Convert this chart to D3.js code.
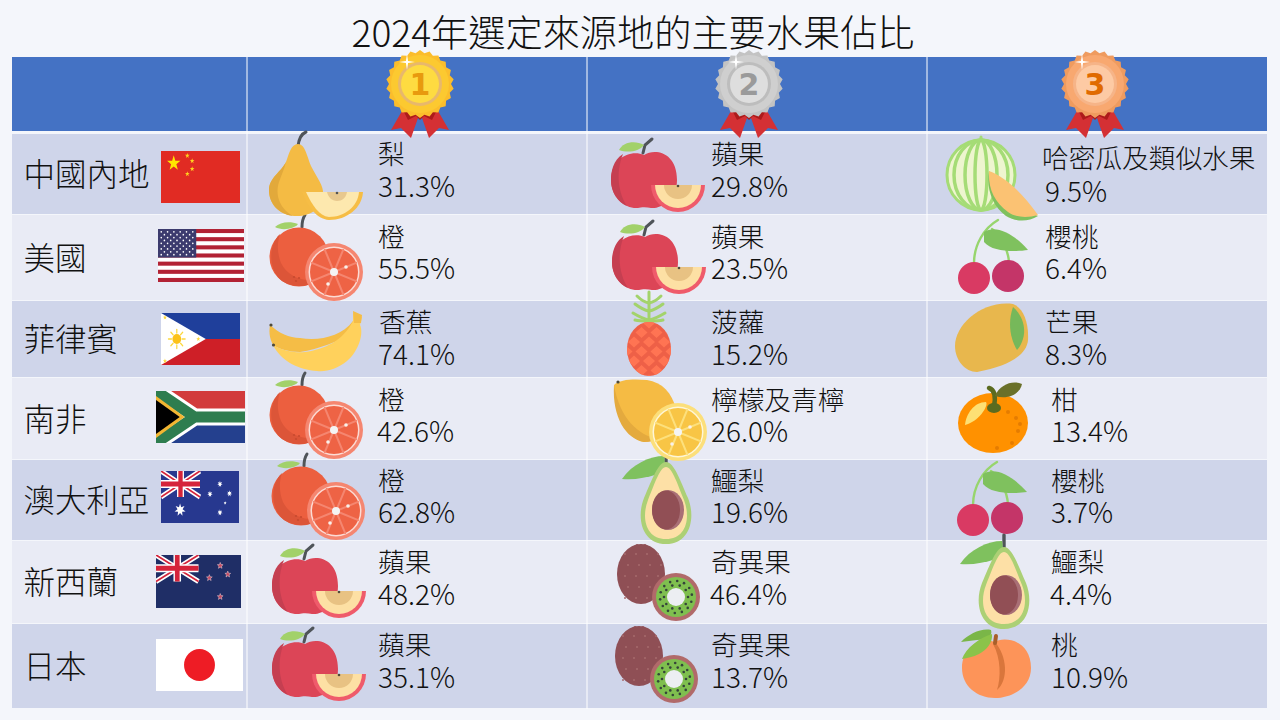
<!DOCTYPE html>
<html>
<head>
<meta charset="utf-8">
<script src="https://cdn.jsdelivr.net/npm/d3@7"></script>
<style>
  html, body { margin: 0; padding: 0; background: #f4f6fb; }
  svg { display: block; }
  text { font-family: "Noto Sans CJK TC", "Noto Sans", sans-serif; font-weight: 300; fill: #111; }
</style>
</head>
<body>
<svg id="chart" width="1280" height="720"></svg>
<script>
const title = "2024年選定來源地的主要水果佔比";

// table data, one list per column
const regions = ["中國內地", "美國", "菲律賓", "南非", "澳大利亞", "新西蘭", "日本"];
const flagKeys = ["cn", "us", "ph", "za", "au", "nz", "jp"];
const fruit1 = ["梨", "橙", "香蕉", "橙", "橙", "蘋果", "蘋果"];
const value1 = [31.3, 55.5, 74.1, 42.6, 62.8, 48.2, 35.1];
const fruit2 = ["蘋果", "蘋果", "菠蘿", "檸檬及青檸", "鱷梨", "奇異果", "奇異果"];
const value2 = [29.8, 23.5, 15.2, 26.0, 19.6, 46.4, 13.7];
const fruit3 = ["哈密瓜及類似水果", "櫻桃", "芒果", "柑", "櫻桃", "鱷梨", "桃"];
const value3 = [9.5, 6.4, 8.3, 13.4, 3.7, 4.4, 10.9];

// layout
const colEdges = [12, 247, 587, 927, 1267];
const rowEdges = [134, 215, 301, 378, 460, 541, 624, 709];
const regionY = [175, 259, 340, 420, 501, 583, 667];
const flagBoxes = [[161, 151, 79, 52], [158, 229, 86, 53], [161, 313, 79, 52], [156, 391, 89, 52],
  [161, 471, 78, 52], [156, 555, 85, 53], [156, 639, 87, 52]];
const labelX = [
  [378, 378, 379, 378, 378, 378, 378],
  [711, 711, 711, 711, 711, 711, 711],
  [1042, 1045, 1045, 1051, 1051, 1051, 1051]];
const valueX = [
  [378, 378, 378, 377, 378, 378, 378],
  [711, 711, 711, 711, 711, 710, 711],
  [1045, 1045, 1045, 1051, 1051, 1050, 1051]];
const labelY = [
  [154, 237, 322, 400, 481, 562, 645],
  [154, 237, 322, 400, 481, 562, 645],
  [158, 237, 322, 400, 481, 562, 645]];
const valueY = [
  [187, 269, 355, 432, 513, 595, 678],
  [187, 269, 355, 432, 513, 595, 678],
  [192, 269, 355, 432, 513, 595, 678]];
const iconAt = [
  [[269, 132], [270, 215], [269, 311], [270, 373], [272, 454], [272, 544], [272, 627]],
  [[611, 138], [612, 220], [627, 290], [614, 379], [622, 456], [617, 544], [615, 626]],
  [[946, 136], [958, 220], [955, 302], [958, 382], [957, 462], [960, 541], [961, 628]]];
const medalX = [420, 749, 1095];

const svg = d3.select("#chart");

function add(g, tag, attrs) {
  const el = g.append(tag);
  Object.entries(attrs).forEach(([k, v]) => el.attr(k, v));
  return el;
}
const path = (g, d, fill, extra) => add(g, "path", Object.assign({ d: d, fill: fill }, extra || {}));
const circle = (g, cx, cy, r, fill) => add(g, "circle", { cx: cx, cy: cy, r: r, fill: fill });
const ellipse = (g, cx, cy, rx, ry, fill, extra) =>
  add(g, "ellipse", Object.assign({ cx: cx, cy: cy, rx: rx, ry: ry, fill: fill }, extra || {}));
const line = (g, d, stroke, w) =>
  add(g, "path", { d: d, fill: "none", stroke: stroke, "stroke-width": w, "stroke-linecap": "round" });

function starPath(cx, cy, R, r, n) {
  n = n || 5;
  const pts = d3.range(n * 2).map(i => {
    const a = -Math.PI / 2 + i * Math.PI / n, q = i % 2 ? r : R;
    return [cx + q * Math.cos(a), cy + q * Math.sin(a)];
  });
  return "M" + pts.join("L") + "Z";
}

// ---- flags, all drawn in a 90x52 box ----
function unionJack(g, w, h, blue) {
  add(g, "rect", { width: w, height: h, fill: blue });
  const d = `M0 0L${w} ${h}M${w} 0L0 ${h}`;
  add(g, "path", { d: d, stroke: "#fff", "stroke-width": 5 });
  add(g, "path", { d: d, stroke: "#d5243a", "stroke-width": 1.8 });
  const c = `M${w / 2} 0V${h}M0 ${h / 2}H${w}`;
  add(g, "path", { d: c, stroke: "#fff", "stroke-width": 8 });
  add(g, "path", { d: c, stroke: "#d5243a", "stroke-width": 5 });
}

const flags = {
  cn(g) {
    add(g, "rect", { width: 90, height: 52, fill: "#e12b23" });
    path(g, starPath(14.5, 12.3, 8, 3.1), "#ffe600");
    [[30, 4.7], [35.5, 10], [35.5, 18], [30, 23]].forEach(p => path(g, starPath(p[0], p[1], 2.8, 1.1), "#ffd21f"));
  },
  us(g) {
    add(g, "rect", { width: 90, height: 52, fill: "#fff" });
    d3.range(0, 13, 2).forEach(i => add(g, "rect", { y: i * 4, width: 90, height: 4, fill: "#b22234" }));
    add(g, "rect", { width: 40, height: 28, fill: "#3c3b6e" });
    d3.range(9).forEach(r => d3.range(r % 2 ? 5 : 6).forEach(c =>
      circle(g, 3.4 + c * 6.6 + (r % 2 ? 3.3 : 0), 2.8 + r * 2.8, 0.85, "#fff")));
  },
  ph(g) {
    add(g, "rect", { width: 90, height: 26, fill: "#1f3f9b" });
    add(g, "rect", { y: 26, width: 90, height: 26, fill: "#ce1f27" });
    path(g, "M0 0L51 26L0 52Z", "#fff");
    d3.range(8).forEach(i => {
      const a = i * Math.PI / 4;
      line(g, `M${18 + 6 * Math.cos(a)} ${26 + 6 * Math.sin(a)}L${18 + 9.5 * Math.cos(a)} ${26 + 9.5 * Math.sin(a)}`, "#fcd83c", 1.4);
    });
    circle(g, 18, 26, 5, "#fcc21a");
    [[4.5, 4.5], [42.5, 26], [4.5, 48]].forEach(p => path(g, starPath(p[0], p[1], 2.4, 1), "#fcd83c"));
  },
  za(g) {
    add(g, "rect", { width: 90, height: 26, fill: "#d23b3c" });
    add(g, "rect", { y: 26, width: 90, height: 26, fill: "#24408e" });
    const y = "M0 0L39 26L0 52M39 26H90";
    add(g, "path", { d: y, fill: "none", stroke: "#fff", "stroke-width": 17 });
    add(g, "path", { d: y, fill: "none", stroke: "#2e7d4f", "stroke-width": 11 });
    path(g, "M0 5L29 26L0 47Z", "#f2b632");
    path(g, "M0 9L24 26L0 43Z", "#000");
  },
  au(g) {
    add(g, "rect", { width: 90, height: 52, fill: "#27388f" });
    unionJack(g, 45, 26, "#27388f");
    path(g, starPath(22, 39, 6.5, 3, 7), "#fff");
    [[68, 13], [56.5, 23], [79, 22.5], [68, 41.5]].forEach(p => path(g, starPath(p[0], p[1], 3.2, 1.4, 7), "#fff"));
    path(g, starPath(74, 32, 1.7, 0.8), "#fff");
  },
  nz(g) {
    add(g, "rect", { width: 90, height: 52, fill: "#1f2e66" });
    unionJack(g, 45, 26, "#1f2e66");
    [[68, 10.5], [56.5, 22.5], [76, 19], [68, 41]].forEach(p =>
      path(g, starPath(p[0], p[1], 3.2, 1.4), "#c8475f", { stroke: "#f3d8dd", "stroke-width": 0.5 }));
  },
  jp(g) {
    add(g, "rect", { width: 90, height: 52, fill: "#fff" });
    circle(g, 45, 26, 16, "#ee1c25");
  }
};

// ---- fruit icons, origin is the top left of the icon ----
function citrus(g, cx, cy, r, rim, inner, spoke) {
  circle(g, cx, cy, r, rim);
  circle(g, cx, cy, r - 3.5, "#fff").attr("opacity", 0.7);
  circle(g, cx, cy, r - 5, inner);
  d3.range(8).forEach(i => {
    const a = Math.PI / 8 + i * Math.PI / 4;
    line(g, `M${cx} ${cy}L${cx + (r - 5) * Math.cos(a)} ${cy + (r - 5) * Math.sin(a)}`, spoke, 2);
  });
  circle(g, cx, cy, 4, "#f4f4f4");
  circle(g, cx + 12, cy - 5, 1.8, "#f9f1ea");
  circle(g, cx - 6, cy + 12, 1.8, "#f9f1ea");
}

const icons = {
  "梨"(g) {
    line(g, "M29 14C30 6 32 2 37 0", "#4f5459", 3);
    path(g, "M29 12C36 12 38 24 42 34C48 46 55 54 54 62C54 76 42 84 28 84C12 84 0 74 0 58C0 46 12 40 17 30C20 22 22 12 29 12Z", "#f4bb44");
    path(g, "M17 30C12 40 0 46 0 58C0 72 10 82 24 84C10 76 6 62 10 50C12 44 15 38 17 30Z", "#e2a93b");
    path(g, "M33 60L94 60C93 76 78 88 60 88C47 87 39 74 33 60Z", "#f6bd45");
    path(g, "M37 60L90 60C89 74 76 85 60 85C50 84 43 73 37 60Z", "#fde8ae");
    path(g, "M58 60L78 60C77 66 73 69 68 69C63 69 59 65 58 60Z", "#e8c88e");
    circle(g, 68, 61, 1.3, "#555");
  },
  "橙"(g) {
    line(g, "M32 12C32 6 33 3 35 0", "#4f5459", 3);
    path(g, "M5 12C10 7 20 6 28 9C24 14 12 16 5 12Z", "#a2d16a");
    circle(g, 29, 42, 29.5, "#ec5f3f");
    path(g, "M10 19C-2 30 -2 55 12 66C24 74 40 72 50 64C34 68 18 62 11 48C7 38 7 28 10 19Z", "#dc5538");
    [[24, 62], [29, 63], [26, 66]].forEach(p => circle(g, p[0], p[1], 1.1, "#c84a30"));
    citrus(g, 64, 57, 29, "#f58670", "#ee6345", "#f58670");
  },
  "香蕉"(g) {
    path(g, "M1 14C10 22 20 27 31 27C50 30 72 26 84 10L84 22C70 30 50 38 31 41C20 41 10 38 4 34C0 26 0 20 1 14Z", "#f5bd46");
    path(g, "M4 34C14 40 26 42 36 41C56 38 74 30 84 10L84 2L93 6L91 14C95 22 90 40 78 50C68 58 58 61 48 60C30 59 12 50 4 34Z", "#ffd15c");
    path(g, "M84 0L93 4L92 12L85 12Z", "#f5bd46");
    circle(g, 2, 14, 1.6, "#4f4a3a");
    circle(g, 4.5, 34, 1.6, "#4f4a3a");
  },
  "菠蘿"(g) {
    const cx = 22;
    line(g, `M${cx} 32V2`, "#a3d36b", 3);
    [[6, 10], [14, 12], [23, 14]].forEach(l => {
      [-1, 1].forEach(s => line(g, `M${cx} ${l[0] + 7}Q${cx + s * 6} ${l[0] + 6} ${cx + s * (l[1] + 2)} ${l[0]}`, "#a3d36b", 3));
    });
    [-1, 1].forEach(s => line(g, `M${cx + s} 31Q${cx + s * 10} 31 ${cx + s * 14} 30`, "#a3d36b", 3));
    add(g, "clipPath", { id: "pineBody" }).call(c => ellipse(c, cx, 59, 22, 27, "#000"));
    ellipse(g, cx, 59, 22, 27, "#ee6047");
    const d = g.append("g").attr("clip-path", "url(#pineBody)");
    d3.range(7).forEach(r => d3.range(5).forEach(c => {
      const x = (c * 15) + (r % 2 ? 7.5 : 0) - 8, y = 33 + r * 9.5;
      path(d, `M${x} ${y - 5.5}L${x + 6} ${y}L${x} ${y + 5.5}L${x - 6} ${y}Z`, "#ff7453");
    }));
  },
  "蘋果"(g) {
    line(g, "M32 15L34 7L41 1", "#4f5459", 3);
    path(g, "M8 12C12 4 24 2 33 7C28 14 16 15 8 12Z", "#a2d16a");
    path(g, "M33 17C44 10 66 14 66 42C66 62 50 71 40 70C36 69 30 69 27 70C14 71 0 60 0 42C0 20 20 11 33 17Z", "#dc4557");
    path(g, "M12 16C2 22 0 34 0 42C0 54 7 64 16 68C8 56 4 36 12 16Z", "#c53f51");
    path(g, "M40 47A27 27 0 0 0 94 47Z", "#ef5b6b");
    path(g, "M44 47A23 23 0 0 0 90 47Z", "#fde0a4");
    path(g, "M53 47A14 14 0 0 0 81 47Z", "#e8c283");
    circle(g, 67, 48, 1.3, "#4f4a3a");
  },
  "哈密瓜及類似水果"(g) {
    line(g, "M35 6V1", "#a5dc76", 3);
    ellipse(g, 35, 39, 34, 35, "#eef5cf", { stroke: "#a5dc76", "stroke-width": 3 });
    [27, 16, 6].forEach(rx => ellipse(g, 35, 39, rx, 35, "none", { stroke: "#a5dc76", "stroke-width": 3.5 }));
    path(g, "M43 35C40 52 46 70 60 80C70 86 82 86 92 80C88 78 84 77 80 74C62 64 50 50 43 35Z", "#7fc15e");
    path(g, "M43 35C62 42 78 60 92 79C82 82 70 82 62 76C48 66 42 52 43 35Z", "#fbc273");
  },
  "櫻桃"(g) {
    line(g, "M40 0C26 8 16 25 16 43", "#97d56d", 2.4);
    line(g, "M34 9C44 16 50 30 51 42", "#97d56d", 2.4);
    path(g, "M26 12C38 4 56 14 70 30C56 32 34 32 26 22Z", "#7fc15e");
    circle(g, 16, 58, 16, "#d93a63");
    circle(g, 50, 56, 16, "#c43568");
  },
  "芒果"(g) {
    path(g, "M58 2C68 6 74 20 73 38C72 52 55 64 22 70C10 70 0 58 0 44C0 22 28 -2 58 2Z", "#e8b74d");
    path(g, "M58 5C66 12 70 22 69 32C68 40 64 46 62 48C56 38 52 22 58 5Z", "#76b85a");
  },
  "檸檬及青檸"(g) {
    path(g, "M0 6C6 0 20 0 33 1C48 3 58 14 62 30C64 48 50 62 30 63C14 60 0 40 0 6Z", "#f5bb44");
    path(g, "M0 6C-2 38 12 60 30 63C36 63 40 62 44 60C24 56 6 40 0 6Z", "#e4aa3e");
    circle(g, 4, 3, 1.6, "#4f4a3a");
    citrus(g, 64, 53, 29, "#fcdf7a", "#f8c545", "#fde07c");
  },
  "柑"(g) {
    ellipse(g, 35, 41, 35, 30, "#ff9100");
    path(g, "M7 43C8 32 16 20 28 20C31 24 20 40 7 43Z", "#fde074");
    line(g, "M31 6C37 8 38 14 36 24", "#5b6b1f", 4.5);
    ellipse(g, 36, 26, 7, 5, "#5b6b1f");
    path(g, "M37 14C42 2 55 -2 64 2C62 12 50 18 37 14Z", "#6a7029");
    [[50, 30], [58, 36], [62, 42], [60, 49], [54, 61], [39, 66]].forEach(p => circle(g, p[0], p[1], 2, "#e57c00"));
  },
  "鱷梨"(g) {
    line(g, "M44 -6V6", "#4f5459", 3.4);
    path(g, "M0 23C10 8 28 0 42 0C44 8 42 14 36 18C24 22 12 24 0 23Z", "#7fc15e");
    path(g, "M44 6C52 6 58 24 66 42C74 62 68 88 44 88C20 88 14 62 22 42C30 24 36 6 44 6Z", "#acd075");
    path(g, "M44 11C50 11 55 27 62 44C69 62 64 83 44 83C24 83 19 62 26 44C33 27 38 11 44 11Z", "#fde0a6");
    ellipse(g, 46, 54, 16, 20, "#a96f76");
    ellipse(g, 44, 54, 14, 19.5, "#914f55");
  },
  "奇異果"(g) {
    path(g, "M17 2L20 0L24 2L28 0L31 2L33 4L15 4Z", "#914f55");
    ellipse(g, 24, 30, 24, 30, "#8f4f55");
    d3.range(5).forEach(r => d3.range(4).forEach(c => circle(g, 8 + c * 11 + (r % 2 ? 3 : 0), 10 + r * 11, 1, "#a66a6c")));
    circle(g, 59, 53, 24, "#b16a6a");
    circle(g, 59, 53, 20, "#7fbf4f");
    circle(g, 59, 53, 9, "#eceef2");
    [[12, 10, 0], [16, 14, 0.3]].forEach(s => d3.range(s[1]).forEach(i => {
      const a = s[2] + i * 2 * Math.PI / s[1];
      circle(g, 59 + s[0] * Math.cos(a), 53 + s[0] * Math.sin(a), 1.3, "#35443a");
    }));
  },
  "桃"(g) {
    path(g, "M33 14C44 8 70 12 70 40C70 60 50 70 34 70C16 70 1 58 1 40C1 18 22 8 33 14Z", "#fd9459");
    path(g, "M34 14C46 28 48 52 36 62C40 50 40 30 32 16Z", "#d9763c");
    line(g, "M34 15L35 8", "#a8602a", 4);
    path(g, "M0 14C8 6 20 0 30 2C32 8 26 12 16 12Z", "#7ab648");
    path(g, "M1 31C5 20 18 10 31 6C32 14 26 22 18 26C12 29 6 30 1 31Z", "#8bc34a");
  }
};

// ---- medals ----
const medalColors = [
  { outer: "#fbbd2c", mid: "#fcc930", ring: "#e8b86c", face: "#fedb41", digit: "#e89a0e" },
  { outer: "#c3c3c3", mid: "#cfcfcf", ring: "#bdbdbd", face: "#dedede", digit: "#9a9a9a" },
  { outer: "#ef9b5f", mid: "#f8a870", ring: "#f6b488", face: "#fdcaa4", digit: "#e06a00" }
];
function medal(g, c, num) {
  path(g, "M-14 20L-29 46L-19 44L-9 54L-2 34L2 34L9 54L19 44L29 46L14 20Z", "#d43034");
  path(g, "M-18 24L-12 36L-4 32L0 36L4 32L12 36L18 24Z", "#ad1a1a");
  path(g, starPath(0, 0, 34, 31, 22), c.outer);
  circle(g, 0, 0, 29, c.mid);
  circle(g, 0, 0, 22, c.ring);
  circle(g, 0, 0, 19, c.face);
  add(g, "text", { "text-anchor": "middle", y: 11, "font-size": 30 })
    .style("font-weight", 900).style("font-family", "'DejaVu Sans', sans-serif")
    .style("fill", c.digit).text(num);
  path(g, starPath(-13, -22, 8, 1.5, 4), "#fff");
}

// ---- table ----
const rowIdx = d3.range(regions.length);
const table = svg.append("g");
add(table, "rect", { x: colEdges[0], y: 57, width: colEdges[4] - colEdges[0], height: 74, fill: "#4472c4" });
table.selectAll("rect.row").data(rowIdx).join("rect").attr("class", "row")
  .attr("x", colEdges[0]).attr("width", colEdges[4] - colEdges[0])
  .attr("y", i => rowEdges[i]).attr("height", i => rowEdges[i + 1] - rowEdges[i] - 1)
  .attr("fill", i => i % 2 ? "#e9ebf5" : "#cfd5ea");
table.selectAll("line").data(colEdges.slice(1, 4)).join("line")
  .attr("x1", d => d).attr("x2", d => d).attr("y1", 57).attr("y2", 709)
  .attr("stroke", "#fff").attr("stroke-width", 1);

add(svg, "text", { x: 633, y: 47, "text-anchor": "middle", "font-size": 37.2 }).text(title);

// region names and flags
svg.selectAll("text.region").data(rowIdx).join("text").attr("class", "region")
  .attr("x", 23.5).attr("y", i => regionY[i]).attr("dy", "0.36em").attr("font-size", 31.5)
  .text(i => regions[i]);

add(svg, "defs", {}).append("clipPath").attr("id", "flagClip")
  .append("rect").attr("width", 90).attr("height", 52);
rowIdx.forEach(i => {
  const b = flagBoxes[i];
  const g = svg.append("g").attr("transform", `translate(${b[0]},${b[1]}) scale(${b[2] / 90},${b[3] / 52})`)
    .attr("clip-path", "url(#flagClip)");
  flags[flagKeys[i]](g);
});

// fruit icons go bottom row first, upper rows overlap the lower ones
const fruits = [fruit1, fruit2, fruit3];
const values = [value1, value2, value3];
rowIdx.slice().reverse().forEach(r => {
  fruits.forEach((col, c) => {
    const g = svg.append("g").attr("transform", `translate(${iconAt[c][r]})`);
    icons[col[r]](g);
  });
});

// labels and percentages
fruits.forEach((col, c) => {
  svg.selectAll(`text.label${c}`).data(rowIdx).join("text").attr("class", `label${c}`)
    .attr("x", i => labelX[c][i]).attr("y", i => labelY[c][i]).attr("dy", "0.36em")
    .attr("font-size", 26.7).text(i => col[i]);
  svg.selectAll(`text.value${c}`).data(rowIdx).join("text").attr("class", `value${c}`)
    .attr("x", i => valueX[c][i]).attr("y", i => valueY[c][i]).attr("dy", "0.36em")
    .attr("font-size", 28).text(i => values[c][i].toFixed(1) + "%");
});

medalX.forEach((x, i) => {
  medal(svg.append("g").attr("transform", `translate(${x},84)`), medalColors[i], i + 1);
});
</script>
</body>
</html>
